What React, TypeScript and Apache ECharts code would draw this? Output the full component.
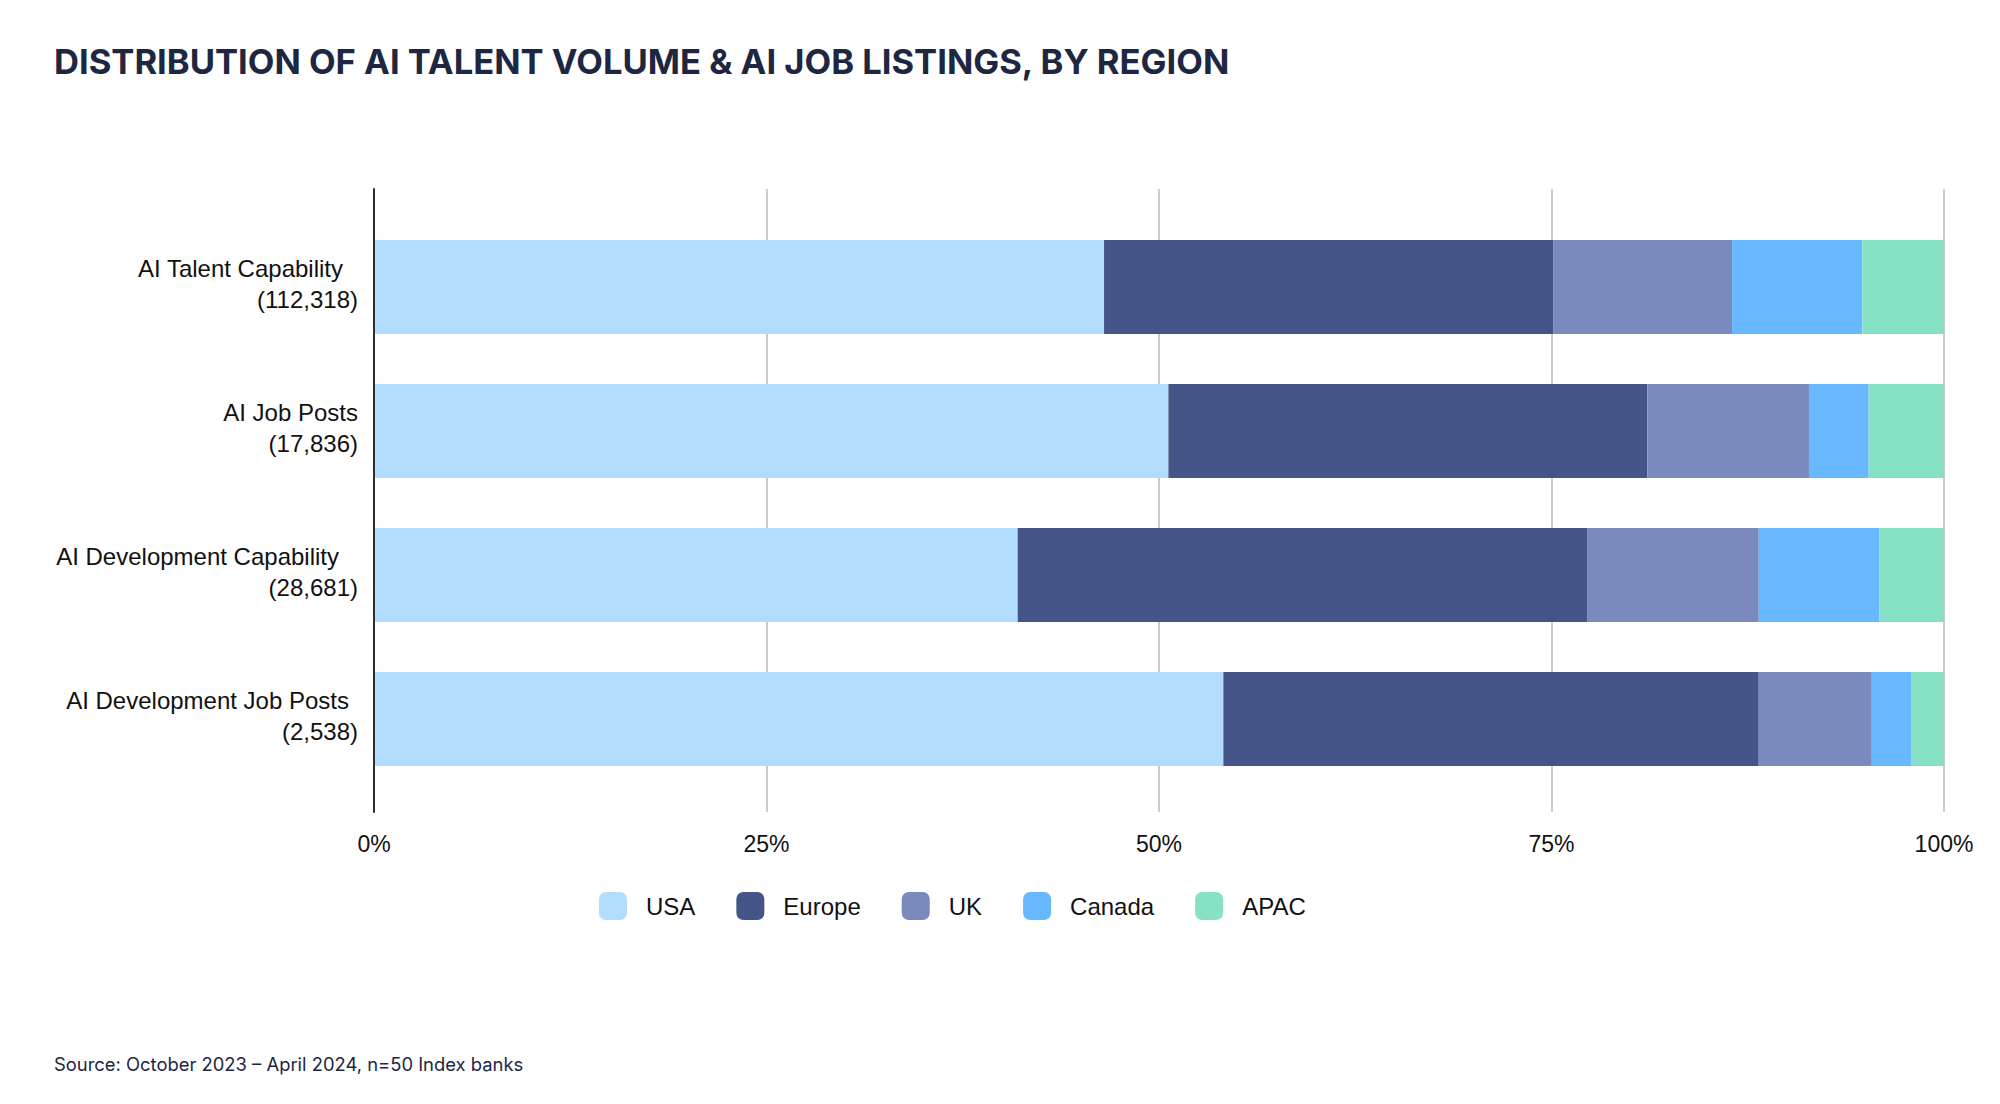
import React, { useEffect, useRef } from "react";
import * as echarts from "echarts";

const categories = [
  "AI Talent Capability",
  "AI Job Posts",
  "AI Development Capability",
  "AI Development Job Posts",
];
const totals = ["112,318", "17,836", "28,681", "2,538"];
const regions = ["USA", "Europe", "UK", "Canada", "APAC"];
const usa = [46.5, 50.6, 41.0, 54.1];
const europe = [28.6, 30.5, 36.3, 34.1];
const uk = [11.4, 10.3, 10.9, 7.2];
const canada = [8.3, 3.8, 7.7, 2.5];
const apac = [5.2, 4.8, 4.1, 2.1];
const seriesValues = [usa, europe, uk, canada, apac];

const colors = ["#B3DDFE", "#455587", "#7A8ABD", "#67B8FE", "#86E1C5"];
const labelPadRight = [15, 0, 19, 9];

const TITLE = "DISTRIBUTION OF AI TALENT VOLUME & AI JOB LISTINGS, BY REGION";
const SOURCE = "Source: October 2023 \u2013 April 2024, n=50 Index banks";

export default function App() {
  const ref = useRef<HTMLDivElement>(null);
  useEffect(() => {
    if (!ref.current) return;
    const chart = echarts.init(ref.current, null, { renderer: "svg" });
    const rich: any = {
      b: {
        fontSize: 24,
        lineHeight: 31,
        color: "#111111",
        fontFamily: "Liberation Sans",
        align: "right",
      },
    };
    labelPadRight.forEach((p, i) => {
      rich["a" + i] = {
        fontSize: 24,
        lineHeight: 31,
        color: "#111111",
        fontFamily: "Liberation Sans",
        align: "right",
        padding: [0, p, 0, 0],
      };
    });
    chart.setOption({
      animation: false,
      backgroundColor: "#ffffff",
      title: {
        text: TITLE,
        left: 49,
        top: 38,
        textStyle: {
          fontFamily: "Inter",
          fontWeight: 700,
          fontSize: 34.6,
          color: "#1E2741",
        },
      },
      legend: {
        data: regions,
        left: 594,
        top: 887,
        icon: "roundRect",
        itemWidth: 28,
        itemHeight: 28,
        itemGap: 41,
        textStyle: {
          fontSize: 24,
          color: "#111111",
          fontFamily: "Liberation Sans",
          padding: [0, 0, 0, 14],
        },
      },
      grid: [
        { left: 374, right: 56, top: 215, bottom: 313 },
        { left: 374, right: 56, top: 189, bottom: 292 },
      ],
      xAxis: [
        { gridIndex: 0, type: "value", min: 0, max: 100, show: false },
        {
          gridIndex: 1,
          type: "value",
          min: 0,
          max: 100,
          interval: 25,
          axisLine: { show: false },
          axisTick: { show: false },
          splitLine: { show: true, lineStyle: { color: "#CCCCCC", width: 2 } },
          axisLabel: {
            formatter: "{value}%",
            fontSize: 23,
            color: "#111111",
            fontFamily: "Liberation Sans",
            margin: 20,
          },
        },
      ],
      yAxis: [
        {
          gridIndex: 0,
          type: "category",
          inverse: true,
          data: categories,
          axisLine: { show: false },
          axisTick: { show: false },
          axisLabel: {
            margin: 16,
            padding: [0, 0, 6, 0],
            formatter: (value: string, index: number) =>
              `{a${index}|${value}}\n{b|(${totals[index]})}`,
            rich,
          },
        },
        {
          gridIndex: 1,
          type: "value",
          z: 5,
          axisLine: { show: true, lineStyle: { color: "#2A2D3A", width: 2 } },
          axisTick: { show: false },
          axisLabel: { show: false },
          splitLine: { show: false },
        },
      ],
      series: regions.map((name, i) => ({
        name,
        type: "bar",
        stack: "total",
        xAxisIndex: 0,
        yAxisIndex: 0,
        barWidth: 94,
        itemStyle: { color: colors[i] },
        data: seriesValues[i],
      })),
      graphic: [
        {
          type: "text",
          left: 54,
          top: 1055,
          style: {
            text: SOURCE,
            fontFamily: "Inter",
            fontSize: 18.4,
            fill: "#1E2741",
          },
        },
      ],
    });
    return () => chart.dispose();
  }, []);
  return (
    <div
      ref={ref}
      style={{ position: "fixed", left: 0, top: 0, width: 2000, height: 1104 }}
    />
  );
}
